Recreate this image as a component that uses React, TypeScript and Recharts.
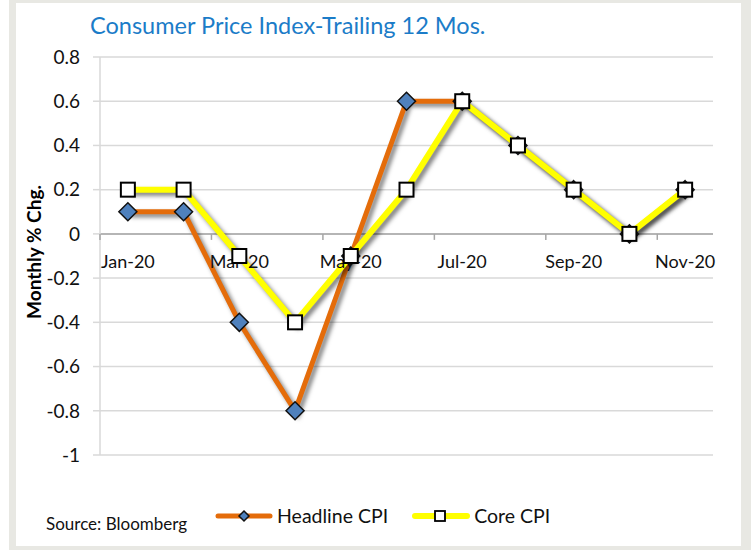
import React from 'react';
import {
  LineChart, Line, XAxis, YAxis, CartesianGrid, ReferenceLine, ReferenceDot, Legend,
} from 'recharts';

// Monthly % change
const months = ['Jan-20', 'Feb-20', 'Mar-20', 'Apr-20', 'May-20', 'Jun-20', 'Jul-20', 'Aug-20', 'Sep-20', 'Oct-20', 'Nov-20'];
const headline = [0.1, 0.1, -0.4, -0.8, -0.1, 0.6, 0.6, 0.4, 0.2, 0.0, 0.2];
const core = [0.2, 0.2, -0.1, -0.4, -0.1, 0.2, 0.6, 0.4, 0.2, 0.0, 0.2];
const yTicks = [-1, -0.8, -0.6, -0.4, -0.2, 0, 0.2, 0.4, 0.6, 0.8];
const labelledMonths = [0, 2, 4, 6, 8, 10];

const ORANGE = '#E46C0A';
const YELLOW = '#FFFF00';
const BLUE = '#4F81BD';
const GRID = '#D9D9D9';
const FONT = 'Lato, "Open Sans", sans-serif';

const data = months.map((m, i) => ({ idx: i, month: m, headline: headline[i], core: core[i] }));

const Diamond = (p: any) => {
  const { cx, cy } = p;
  if (cx == null || cy == null) return null;
  const s = 9;
  return (
    <polygon
      points={`${cx},${cy - s} ${cx + s},${cy} ${cx},${cy + s} ${cx - s},${cy}`}
      fill={BLUE} stroke="#111" strokeWidth={1.5}
    />
  );
};

const Square = (p: any) => {
  const { cx, cy } = p;
  if (cx == null || cy == null) return null;
  return <rect x={cx - 7} y={cy - 7} width={14} height={14} fill="#fff" stroke="#000" strokeWidth={2} />;
};

const LegendContent = () => (
  <div style={{ display: 'flex', alignItems: 'center', fontFamily: FONT, fontSize: 19.5, color: '#111' }}>
    <svg width={58} height={14}>
      <line x1={3} y1={7} x2={55} y2={7} stroke={ORANGE} strokeWidth={5} strokeLinecap="round" />
      <polygon points="29,2 34,7 29,12 24,7" fill={BLUE} stroke="#111" strokeWidth={1.5} />
    </svg>
    <span style={{ marginLeft: 4 }}>Headline CPI</span>
    <svg width={58} height={14} style={{ marginLeft: 24 }}>
      <line x1={3} y1={7} x2={55} y2={7} stroke={YELLOW} strokeWidth={6} strokeLinecap="round" />
      <rect x={23} y={2} width={10} height={10} fill="#fff" stroke="#000" strokeWidth={1.8} />
    </svg>
    <span style={{ marginLeft: 4 }}>Core CPI</span>
  </div>
);

const YLabel = (props: any) => {
  const vb = props.viewBox || { x: 0, y: 0, width: 0, height: 0 };
  const x = vb.x + 33;
  const y = vb.y + vb.height / 2 - 4;
  return (
    <text x={x} y={y} transform={`rotate(-90 ${x} ${y})`} textAnchor="middle" dominantBaseline="central"
      style={{ fontFamily: FONT, fontWeight: 700, fontSize: 19, fill: '#000' }}>
      Monthly % Chg.
    </text>
  );
};

export default function App() {
  return (
    <div style={{ position: 'absolute', left: 0, top: 0, width: 751, height: 550, background: '#E8E8E3' }}>
      <style>{`.recharts-line { filter: drop-shadow(3px 3px 2px rgba(0,0,0,0.5)); }`}</style>
      <div style={{ position: 'absolute', left: 0, top: 0, width: 9, height: 550, background: '#fff' }} />
      <div style={{ position: 'absolute', left: 16, top: 3, width: 725, height: 543, background: '#fff' }} />
      <div style={{ position: 'absolute', left: 90, top: 11, fontFamily: FONT, fontSize: 23.5, color: '#1B7CC8', whiteSpace: 'nowrap' }}>
        Consumer Price Index-Trailing 12 Mos.
      </div>
      <div style={{ position: 'absolute', left: 46, top: 513, fontFamily: FONT, fontSize: 17, color: '#111', whiteSpace: 'nowrap' }}>
        Source: Bloomberg
      </div>
      <div style={{ position: 'absolute', left: 0, top: 0 }}>
        <LineChart width={751} height={550} data={data} margin={{ top: 57, right: 38, bottom: 95, left: 0 }}>
          <CartesianGrid vertical={false} stroke={GRID} strokeWidth={1.5} />
          <XAxis type="number" dataKey="idx" domain={[-0.5, 10.5]} hide />
          <YAxis
            width={100}
            domain={[-1, 0.8]}
            ticks={yTicks}
            interval={0}
            tickFormatter={(v: number) => String(Math.round(v * 10) / 10)}
            tick={{ fontFamily: FONT, fontSize: 19, fill: '#111' }}
            axisLine={{ stroke: GRID, strokeWidth: 1.5 }}
            tickLine={{ stroke: GRID, strokeWidth: 1.5 }}
            tickSize={7}
            tickMargin={13}
            label={<YLabel />}
          />
          <ReferenceLine y={0} stroke="#A6A6A6" strokeWidth={1.5} />
          {labelledMonths.map((i) => (
            <ReferenceDot
              key={`t${i}`}
              x={i - 0.5}
              y={0}
              r={0}
              shape={(p: any) => <line x1={p.cx} y1={p.cy} x2={p.cx} y2={p.cy + 6} stroke="#A6A6A6" strokeWidth={1.5} />}
            />
          ))}
          {labelledMonths.map((i) => (
            <ReferenceDot
              key={`l${i}`}
              x={i}
              y={0}
              r={0}
              shape={(p: any) => (
                <text x={p.cx} y={p.cy + 34} textAnchor="middle"
                  style={{ fontFamily: FONT, fontSize: 18, fill: '#111' }}>
                  {months[i]}
                </text>
              )}
            />
          ))}
          <Line
            dataKey="headline"
            stroke={ORANGE}
            strokeWidth={5}
            dot={<Diamond />}
            activeDot={false}
            isAnimationActive={false}
          />
          <Line
            dataKey="core"
            stroke={YELLOW}
            strokeWidth={6}
            dot={<Square />}
            activeDot={false}
            isAnimationActive={false}
          />
          <Legend
            layout="horizontal"
            verticalAlign="middle"
            align="center"
            content={<LegendContent />}
            wrapperStyle={{ position: 'absolute', left: 215, top: 504, width: 'auto' }}
          />
        </LineChart>
      </div>
    </div>
  );
}
